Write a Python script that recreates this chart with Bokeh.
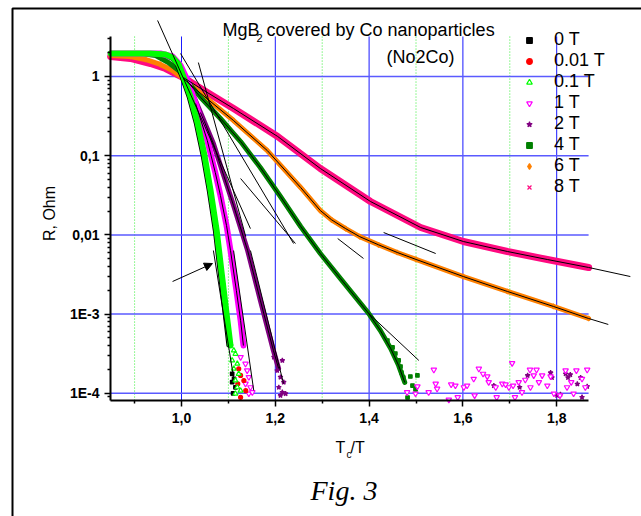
from bokeh.plotting import figure
from bokeh.models import (Range1d, FixedTicker, CustomJSTickFormatter, Label, Legend, LegendItem,
                          Arrow, NormalHead, BoxAnnotation)
from bokeh.embed import file_html
from bokeh.resources import INLINE

# ---------------- data ----------------
x_0T = [0.849, 0.934, 0.964, 0.978, 0.990, 1.000, 1.015, 1.030, 1.045, 1.058, 1.071, 1.081, 1.092, 1.100]
y_0T = [1.95, 1.95, 1.90, 1.74, 1.42, 1.0, 0.559, 0.263, 0.1006, 0.0364, 0.0114, 0.00355, 0.00102, 0.000401]
tx_0T = [1.108, 1.112, 1.108, 1.115, 1.110]
ty_0T = [1.76e-4, 1.52e-4, 1.38e-4, 1.19e-4, 1.0e-4]

x_001T = [0.849, 0.934, 0.966, 0.981, 0.993, 1.003, 1.018, 1.033, 1.048, 1.061, 1.074, 1.084, 1.095, 1.104]
y_001T = [1.95, 1.95, 1.90, 1.74, 1.42, 1.0, 0.559, 0.263, 0.1006, 0.0364, 0.0114, 0.00355, 0.00102, 0.000401]
tx_001T = [1.122, 1.126, 1.133, 1.137, 1.126, 1.120]
ty_001T = [2.04e-4, 1.68e-4, 1.45e-4, 1.08e-4, 8.9e-5, 1.32e-4]

x_01T = [0.849, 0.934, 0.966, 0.981, 0.994, 1.004, 1.019, 1.034, 1.049, 1.062, 1.075, 1.085, 1.096, 1.1045]
y_01T = [1.95, 1.95, 1.90, 1.74, 1.42, 1.0, 0.559, 0.263, 0.1006, 0.0364, 0.0114, 0.00355, 0.00102, 0.000401]
tx_01T = [1.1045, 1.1115, 1.115, 1.108, 1.119, 1.1115, 1.122, 1.115, 1.119, 1.115, 1.126]
ty_01T = [4.22e-4, 3.47e-4, 3.15e-4, 2.6e-4, 2.36e-4, 2.04e-4, 1.76e-4, 1.45e-4, 1.19e-4, 9.9e-5, 1.08e-4]

x_1T = [0.849, 0.955, 0.981, 0.998, 1.013, 1.030, 1.055, 1.072, 1.083, 1.096, 1.1045, 1.117, 1.126, 1.132]
y_1T = [1.95, 1.95, 1.79, 1.377, 0.890, 0.456, 0.1555, 0.0614, 0.03145, 0.01314, 0.00635, 0.00199, 0.00083, 0.000401]
tx_1T = [1.126, 1.1365, 1.140, 1.1435, 1.1365, 1.147, 1.1435, 1.151,
         1.481, 1.503, 1.499, 1.538, 1.542, 1.545, 1.527, 1.570, 1.575, 1.584, 1.589, 1.602, 1.609,
         1.623, 1.625, 1.634, 1.643, 1.652, 1.655, 1.670, 1.672, 1.684, 1.691, 1.698, 1.705, 1.707,
         1.711, 1.719, 1.726, 1.733, 1.743, 1.744, 1.751, 1.757, 1.762, 1.769, 1.780, 1.787, 1.794,
         1.807, 1.819, 1.822, 1.831, 1.836, 1.842, 1.854, 1.865, 1.861]
ty_1T = [2.86e-4, 2.36e-4, 1.94e-4, 1.6e-4, 1.32e-4, 1.19e-4, 9.9e-5, 1.03e-4,
         1.03e-4, 1.22e-4, 9.9e-5, 1.98e-4, 1.32e-4, 1.14e-4, 1.03e-4, 8.3e-5, 1.29e-4, 1.25e-4, 8.9e-5, 1.19e-4, 1.25e-4,
         1.52e-4, 9.4e-5, 2.04e-4, 1.76e-4, 1.63e-4, 1.38e-4, 1.19e-4, 8.9e-5, 1.32e-4, 1.29e-4, 1.19e-4, 2.40e-4, 1.25e-4,
         8.9e-5, 1.38e-4, 1.03e-4, 1.48e-4, 1.98e-4, 1.19e-4, 1.68e-4, 1.98e-4, 1.38e-4, 1.68e-4, 1.25e-4, 1.63e-4, 9.9e-5,
         9.4e-5, 1.94e-4, 1.19e-4, 1.38e-4, 9.9e-5, 1.94e-4, 1.52e-4, 1.98e-4, 1.19e-4]

x_2T = [0.849, 0.955, 0.981, 0.998, 1.019, 1.0405, 1.068, 1.090, 1.111, 1.141, 1.168, 1.196, 1.207]
y_2T = [1.95, 1.95, 1.69, 1.26, 0.706, 0.351, 0.1426, 0.0562, 0.0235, 0.00635, 0.00150, 0.000347, 0.000206]
tx_2T = [1.197, 1.215, 1.204, 1.211, 1.218, 1.2075, 1.215, 1.222, 1.211,
         1.666, 1.721, 1.738, 1.787, 1.790, 1.819, 1.824, 1.829, 1.844, 1.851, 1.865, 1.801, 1.808, 1.854]
ty_2T = [2.86e-4, 2.6e-4, 1.94e-4, 1.6e-4, 1.38e-4, 1.19e-4, 1.03e-4, 9.9e-5, 9.4e-5,
         1.25e-4, 1.19e-4, 1.68e-4, 1.82e-4, 1.58e-4, 1.76e-4, 1.58e-4, 1.72e-4, 1.31e-4, 1.58e-4, 1.22e-4, 9.4e-5, 9.7e-5, 8.9e-5]

x_4T = [0.849, 0.913, 0.945, 0.972, 0.994, 1.011, 1.041, 1.083, 1.126, 1.168, 1.211, 1.254, 1.296, 1.339, 1.399, 1.424, 1.446, 1.463, 1.476]
y_4T = [1.95, 1.95, 1.84, 1.50, 1.19, 0.89, 0.543, 0.295, 0.151, 0.0710, 0.0305, 0.01277, 0.00582, 0.00281, 0.00102, 0.000621, 0.000368, 0.000224, 0.000137]
tx_4T = [1.439, 1.450, 1.456, 1.463, 1.467, 1.469, 1.473, 1.488, 1.503, 1.4925, 1.482, 1.499]
ty_4T = [4.64e-4, 3.79e-4, 3.18e-4, 2.60e-4, 2.18e-4, 1.83e-4, 1.58e-4, 1.63e-4, 1.68e-4, 1.25e-4, 8.85e-5, 1.12e-4]

x_6T = [0.849, 0.891, 0.923, 0.955, 0.981, 1.004, 1.041, 1.111, 1.183, 1.254, 1.296, 1.320, 1.350, 1.380, 1.420, 1.460, 1.500, 1.601, 1.695, 1.793, 1.868]
y_6T = [1.84, 1.79, 1.64, 1.42, 1.19, 0.943, 0.61, 0.278, 0.116, 0.0397, 0.0203, 0.0155, 0.0120, 0.0095, 0.0075, 0.0060, 0.0049, 0.00298, 0.00193, 0.00125, 0.00088]

x_8T = [0.849, 0.891, 0.934, 0.966, 0.987, 1.004, 1.041, 1.111, 1.205, 1.296, 1.403, 1.510, 1.601, 1.695, 1.780, 1.868]
y_8T = [1.79, 1.69, 1.46, 1.26, 1.09, 0.97, 0.706, 0.394, 0.175, 0.069, 0.0264, 0.0124, 0.00825, 0.00617, 0.00489, 0.00388]

# straight fit lines (start x, start y, end x, end y)
fit_x0 = [0.949, 1.068, 1.111, 1.147, 1.399, 1.868, 1.868, 1.126, 1.333, 1.431, 0.998, 1.036]
fit_y0 = [5.10, 0.00635, 0.00635, 0.00635, 1.02e-3, 0.00388, 0.00088, 0.0515, 0.0090, 0.01072, 1.95, 1.50]
fit_x1 = [1.147, 1.111, 1.154, 1.2175, 1.506, 1.957, 1.910, 1.243, 1.388, 1.542, 1.239, 1.137]
fit_y1 = [0.0120, 1.58e-4, 1.09e-4, 1.33e-4, 2.6e-4, 0.00298, 0.00074, 0.00778, 0.00504, 0.00582, 0.00778, 0.0095]

x_ticks = [1.0, 1.2, 1.4, 1.6, 1.8]
x_tick_labels = ["1,0", "1,2", "1,4", "1,6", "1,8"]
x_minor = [0.9, 1.1, 1.3, 1.5, 1.7]
y_ticks = [1e-4, 1e-3, 1e-2, 1e-1, 1.0]
y_tick_labels = ["1E-4", "1E-3", "0,01", "0,1", "1"]
y_minor = [m * 10.0 ** e for e in range(-5, 1) for m in range(2, 10) if 8.1e-5 <= m * 10.0 ** e <= 3.2]

# ---------------- figure ----------------
X0, X1 = 0.8486, 1.868      # extent of the drawn axes
Y0, Y1 = 8.1e-5, 3.2
W, H = 641, 516

p = figure(width=W, height=H, output_backend="svg", toolbar_location=None,
           x_range=Range1d(0.61407, 1.98081), y_range=Range1d(2.7826e-6, 9.1108), y_axis_type="log",
           min_border_left=0, min_border_right=0, min_border_top=0, min_border_bottom=0)
p.grid.visible = False
p.outline_line_color = None
p.background_fill_color = "white"
p.border_fill_color = "white"

fmt_code = """
let best = 0, d = Infinity;
for (let i = 0; i < vals.length; i++) {
  const e = Math.abs(vals[i] - tick) / vals[i];
  if (e < d) { d = e; best = i; }
}
return labels[best];
"""
p.xaxis.ticker = FixedTicker(ticks=x_ticks, minor_ticks=x_minor)
p.xaxis.formatter = CustomJSTickFormatter(args=dict(vals=x_ticks, labels=x_tick_labels), code=fmt_code)
p.yaxis.ticker = FixedTicker(ticks=y_ticks, minor_ticks=y_minor)
p.yaxis.formatter = CustomJSTickFormatter(args=dict(vals=y_ticks, labels=y_tick_labels), code=fmt_code)
p.xaxis.bounds = (X0, X1)
p.yaxis.bounds = (Y0, Y1)
p.xaxis.fixed_location = Y0
p.yaxis.fixed_location = X0
for ax in (p.xaxis[0], p.yaxis[0]):
    ax.axis_line_width = 2
    ax.major_tick_line_width = 1.5
    ax.minor_tick_line_width = 1.5
    ax.major_tick_out = 6
    ax.major_tick_in = 0
    ax.minor_tick_out = 3
    ax.minor_tick_in = 0
    ax.major_label_text_font = "Liberation Sans"
    ax.major_label_text_font_style = "bold"
    ax.major_label_text_font_size = "14px"
    ax.major_label_text_color = "black"
p.yaxis.major_label_standoff = 5
p.xaxis.major_label_standoff = 6

# grid lines
p.segment(x0=x_minor, y0=[Y0] * len(x_minor), x1=x_minor, y1=[Y1] * len(x_minor),
          line_color="#33ee33", line_width=1, line_dash="1 2")
p.segment(x0=x_ticks, y0=[Y0] * len(x_ticks), x1=x_ticks, y1=[Y1] * len(x_ticks),
          line_color="#1a1aff", line_width=1)
p.segment(x0=[X0] * len(y_ticks), y0=y_ticks, x1=[X1] * len(y_ticks), y1=y_ticks,
          line_color="#5a5aff", line_width=1.5)

# series
series = [
    ("0 T", x_0T, y_0T, tx_0T, ty_0T, "black", "square", 3.5, 4),
    ("0.01 T", x_001T, y_001T, tx_001T, ty_001T, "#ff0000", "circle", 4, 4),
    ("0.1 T", x_01T, y_01T, tx_01T, ty_01T, "#00ff00", "triangle", 5, 6),
    ("1 T", x_1T, y_1T, tx_1T, ty_1T, "#ff00ff", "inverted_triangle", 5.5, 6),
    ("2 T", x_2T, y_2T, tx_2T, ty_2T, "#800080", "star", 5, 5),
    ("4 T", x_4T, y_4T, tx_4T, ty_4T, "#008000", "square", 3.5, 5),
    ("6 T", x_6T, y_6T, x_6T, y_6T, "#ff8000", "diamond", 5, 5),
    ("8 T", x_8T, y_8T, x_8T, y_8T, "#ff0a80", "x", 4.5, 7),
]
draw_order = ["8 T", "6 T", "4 T", "2 T", "1 T", "0 T", "0.01 T", "0.1 T"]
renderers = {}
for name in draw_order:
    n, xs, ys, txs, tys, col, mk, ms, bw = [s for s in series if s[0] == name][0]
    r = p.scatter(txs, tys, marker=mk, size=ms, line_color=col,
                  fill_color=col if mk not in ("triangle", "inverted_triangle") else "white",
                  line_width=1.2)
    p.line(xs, ys, line_color=col, line_width=bw, line_cap="round", line_join="round")
    renderers[name] = r

# black fits along the bands
for xs, ys in ((x_8T, y_8T), (x_6T, y_6T), (x_4T, y_4T), (x_2T, y_2T), (x_1T, y_1T)):
    p.line(xs[5:], ys[5:], line_color="black", line_width=1)
p.segment(x0=fit_x0, y0=fit_y0, x1=fit_x1, y1=fit_y1, line_color="black", line_width=1)

p.add_layout(Arrow(end=NormalHead(size=8, fill_color="black", line_color="black"),
                   x_start=0.981, y_start=0.00258, x_end=1.066, y_end=0.00435,
                   line_color="black", line_width=1))

legend = Legend(items=[LegendItem(label=s[0], renderers=[renderers[s[0]]]) for s in series],
                location=(522, H - 197), padding=0, margin=0, spacing=0,
                glyph_width=14, glyph_height=20, label_height=20, label_standoff=18,
                label_text_font="Liberation Sans", label_text_font_size="18px",
                label_text_color="black",
                border_line_color=None, background_fill_alpha=0)
p.add_layout(legend)

# texts (screen units: x from left edge, y up from bottom edge)
def lab(text, px, py, size, **kw):
    p.add_layout(Label(x=px, y=H - py, x_units="screen", y_units="screen", text=text,
                       text_font=kw.pop("font", "Liberation Sans"), text_font_size=size,
                       text_color="black",
                       text_baseline=kw.pop("baseline", "alphabetic"), **kw))

lab("MgB", 222, 29, "18px")
lab("2", 256, 37, "11px")
lab("covered by Co nanoparticles", 266, 29, "18px")
lab("(No2Co)", 420, 56, "18px", text_align="center")
lab("R, Ohm", 49, 213, "16px", angle=1.5708, text_align="center", baseline="middle")
lab("T", 335, 447, "16px")
lab("c", 346, 454, "10px")
lab("/T", 350, 447, "16px")
lab("Fig. 3", 310, 490, "28px", font="Liberation Serif", text_font_style="italic")

# outer frame of the figure page (left and top edges)
p.add_layout(BoxAnnotation(left=12, right=2000, top=H - 8, bottom=-2000,
                           left_units="screen", right_units="screen", top_units="screen", bottom_units="screen",
                           fill_alpha=0, line_color="black", line_alpha=1.0, line_width=2))

open("out.html", "w").write(file_html(p, INLINE))
